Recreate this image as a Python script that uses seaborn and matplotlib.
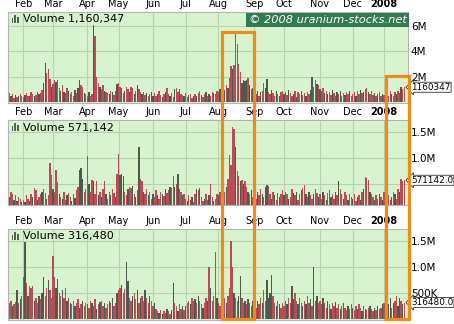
import numpy as np
import pandas as pd
import matplotlib
matplotlib.use("Agg")
import matplotlib.pyplot as plt
import matplotlib.transforms as mtrans
from matplotlib.patches import Rectangle
import seaborn as sns

# ---------------- data ----------------
# one bar per trading day, 19 Jan 2007 .. 22 Jan 2008 ; values in units of 10,000 shares
month_labels = ["Feb", "Mar", "Apr", "May", "Jun", "Jul", "Aug", "Sep", "Oct", "Nov", "Dec", "2008"]
month_start_day = [9, 28, 50, 70, 92, 113, 134, 157, 176, 199, 220, 240]

vol_a = ([70, 45, 60, 35, 55, 40, 50, 65, 45]
         + [40, 55, 70, 50, 45, 75, 60, 50, 55, 80, 65, 70, 95, 150, 310, 230, 260, 180, 120]
         + [140, 170, 160, 175, 110, 90, 130, 80, 70, 110, 90, 60, 75, 50, 95, 70, 110, 170, 130, 120, 70, 60]
         + [50, 80, 45, 60, 610, 520, 200, 150, 120, 100, 130, 90, 80, 70, 60, 85, 75, 55, 90, 140]
         + [150, 120, 110, 70, 90, 120, 100, 80, 115, 110, 60, 90, 130, 100, 75, 60, 80, 55, 70, 45, 65, 80]
         + [50, 70, 45, 60, 85, 55, 40, 65, 75, 110, 60, 50, 70, 40, 100, 110, 80, 105, 60, 55, 45]
         + [70, 40, 55, 65, 35, 50, 60, 45, 70, 90, 55, 40, 60, 75, 45, 65, 50, 80, 70, 60, 90]
         + [75, 100, 85, 120, 95, 130, 110, 190, 280, 260, 290, 540, 460, 300, 240, 150, 170, 165, 175, 190, 130, 100, 110]
         + [70, 60, 85, 45, 75, 90, 150, 110, 180, 80, 60, 95, 70, 50, 85, 65, 45, 75, 90]
         + [60, 80, 55, 95, 70, 50, 65, 85, 40, 75, 60, 90, 55, 70, 45, 80, 60, 95, 200, 120, 170, 140, 130]
         + [100, 85, 110, 70, 90, 60, 80, 55, 95, 70, 50, 75, 60, 85, 45, 70, 55, 80, 65, 90, 50]
         + [60, 75, 50, 85, 65, 95, 70, 80, 100, 110, 75, 60, 90, 55, 70, 45, 60, 80, 50, 65]
         + [55, 40, 70, 50, 85, 60, 45, 75, 65, 90, 70, 120, 105, 116.0347])
dir_a = ("rdrrdrdrr" + "rdrrdrrdrrdrrd" + "drrrd" + "rrdrrdrdrrdrrrdrd" + "d" + "rrdr"
         + "rdrr" + "d" + "r" + "rrdrrdrrdrdrrd" + "rrdrdrrdrrdrdrrdrrdrrd" + "drrdrrdrdrrdrrdrrdrrd"
         + "rrdrrdrdrrdrrdrdrrdrr" + "rdrrdrdrrdr" + "rrrrd" + "ddd" + "rdrd"
         + "rrdrdrrd" + "d" + "rrdrrdrdrr" + "drrdrrdrdrrdrrdrrd" + "d" + "rrdr"
         + "drrdrdrrdrrdrdrrdrrdr" + "rrdrrdrdrrdrrrdrdrrd" + "rrdrrdrrdrrdrr")

vol_b = ([25, 35, 30, 20, 28, 18, 25, 22, 15]
         + [20, 15, 28, 22, 18, 30, 25, 42, 38, 20, 25, 30, 35, 40, 32, 22, 28, 90, 67]
         + [40, 35, 77, 54, 30, 25, 22, 35, 20, 28, 32, 25, 18, 30, 24, 38, 45, 77, 80, 60, 35, 40]
         + [103, 50, 35, 58, 56, 30, 55, 28, 35, 25, 40, 55, 30, 22, 35, 28, 40, 32, 25, 69]
         + [108, 68, 70, 66, 35, 28, 40, 45, 42, 46, 30, 25, 38, 122, 60, 55, 35, 30, 40, 28, 35, 22]
         + [30, 25, 38, 28, 22, 35, 30, 26, 40, 32, 38, 45, 42, 66, 45, 50, 69, 40, 35, 28, 30]
         + [22, 18, 28, 20, 25, 15, 30, 40, 38, 42, 25, 18, 22, 30, 20, 28, 50, 25, 18, 22, 30]
         + [28, 35, 30, 40, 35, 45, 60, 106, 87, 160, 156, 122, 74, 65, 56, 58, 50, 55, 45, 35, 30, 38, 25]
         + [30, 22, 35, 28, 40, 30, 25, 45, 48, 46, 30, 22, 35, 28, 20, 32, 25, 30, 38]
         + [28, 35, 30, 22, 25, 40, 32, 28, 35, 20, 30, 38, 42, 48, 30, 25, 35, 28, 22, 30, 40, 32, 25]
         + [30, 22, 35, 28, 20, 32, 38, 25, 30, 22, 35, 28, 56, 40, 30, 22, 35, 28, 20, 30, 25]
         + [22, 30, 18, 25, 28, 20, 35, 40, 64, 62, 58, 35, 30, 25, 20, 28, 22, 30, 25, 20]
         + [35, 30, 22, 28, 20, 25, 35, 30, 22, 40, 35, 60, 55, 57.1142])
dir_b = ("drrdrdrrd" + "rdrrdrdrrdrrdrrdr" + "rr" + "dr" + "r" + "rdrdrrdrrdrdrr" + "ddd" + "rr"
         + "r" + "drrdrrdrdrrdrrdrrdr" + "r" + "ddd" + "rrdrrdrdr" + "d" + "rrdrrdrr"
         + "drrdrrdrdrrdr" + "r" + "dr" + "d" + "rrdr" + "rdrrdrrdrdrrdrrdrrdrr"
         + "drrdrdr" + "rrrr" + "d" + "rrdrdrrdrdr" + "rrdrrdrd" + "d" + "rrdrdrrdrr"
         + "drrdrrdrdrrdrrdrdrrdrrd" + "rrdrdrrdrrdr" + "d" + "rrdrrdrr"
         + "drrdrdrd" + "rrr" + "drrdrrdrd" + "rrdrrdrdrrd" + "rrr")

vol_c = ([30, 35, 25, 28, 32, 56, 30, 38, 45]
         + [81, 148, 70, 45, 64, 60, 64, 35, 40, 30, 45, 38, 50, 81, 45, 60, 75, 55, 40]
         + [122, 80, 60, 77, 50, 45, 55, 40, 60, 35, 40, 30, 28, 35, 25, 30, 38, 22, 28, 35, 25, 30]
         + [28, 22, 35, 30, 25, 38, 20, 28, 32, 35, 25, 30, 22, 28, 35, 30, 40, 25, 30, 50]
         + [55, 60, 65, 50, 58, 110, 73, 40, 35, 45, 50, 38, 55, 30, 40, 45, 35, 55, 40, 30, 45, 35]
         + [25, 30, 20, 15, 12, 18, 10, 15, 12, 20, 15, 10, 18, 70, 30, 25, 15, 28, 20, 25, 18]
         + [25, 30, 35, 28, 40, 35, 38, 30, 45, 35, 28, 22, 30, 40, 35, 100, 60, 35, 45, 128, 40]
         + [30, 25, 35, 28, 40, 30, 45, 60, 149, 99, 50, 40, 35, 45, 83, 40, 30, 35, 28, 38, 30, 25, 35]
         + [30, 22, 35, 28, 40, 30, 55, 35, 75, 40, 50, 85, 45, 30, 25, 35, 28, 22, 30]
         + [25, 35, 28, 40, 30, 64, 38, 50, 35, 28, 40, 30, 25, 35, 28, 45, 30, 38, 25, 100, 35, 45, 30]
         + [35, 28, 40, 30, 22, 35, 28, 20, 30, 25, 32, 22, 28, 20, 25, 30, 22, 18, 25, 20, 28]
         + [22, 18, 25, 20, 28, 22, 15, 25, 20, 18, 22, 25, 20, 15, 22, 18, 25, 20, 22, 28]
         + [30, 25, 35, 28, 40, 22, 30, 35, 45, 25, 40, 35, 28, 31.648])
dir_c = ("rrdrr" + "d" + "rdr" + "rdrd" + "rrr" + "drrdrd" + "d" + "rrdrr"
         + "r" + "rd" + "d" + "rrdrrdrdrrdrrdrdrr" + "drrdrrdrdrrdrrdrdrrd"
         + "rrdrr" + "d" + "d" + "rrdrrdrdrrdrrdr" + "rdrrdrdrrdrrd" + "d" + "rrdrrdr"
         + "drrdrrdrdrrdrrd" + "r" + "drr" + "r" + "d" + "rrdrrdrr" + "r" + "rdrrd" + "d" + "rrdrdrrd"
         + "rrdrrdrr" + "dddd" + "rrdrdrr" + "rrdrr" + "d" + "drrdrrdrdrrdr" + "d" + "rdr"
         + "rrdrrdrdrrdrrdrdrrdrr" + "drrdrrdrdrrdrrdrdrrd" + "rdrddrdrrddrdr")

last_values = [1160347, 571142, 316480]
last_labels = ["1160347", "571142.0", "316480.0"]
y_ticks = [[2e6, 4e6, 6e6], [0.5e6, 1.0e6, 1.5e6], [0.5e6, 1.0e6, 1.5e6]]
y_tick_labels = [["2M", "4M", "6M"], ["", "1.0M", "1.5M"], ["500K", "1.0M", "1.5M"]]
y_limits = [(-0.08e6, 7.09e6), (0.096e6, 1.73e6), (-0.02e6, 1.73e6)]

for v, d in [(vol_a, dir_a), (vol_b, dir_b), (vol_c, dir_c)]:
    assert len(v) == 254 and len(d) == 254, (len(v), len(d))

# ---------------- styling ----------------
W, H = 454, 324
RED = "#cc3a46"
DARK = "#4f5a4f"
BG = "#d7f4cf"
GRID = "#b7d4ae"
ORANGE = "#f28a1a"

def fx(x):
    return x / W

def fy(y):
    return 1 - y / H

fig = plt.figure(figsize=(W / 100, H / 100), dpi=100)
fig.patch.set_facecolor("white")

panel_px = [(12, 103), (120, 205), (229, 320)]
legend_y = [19.3, 127.5, 236.0]
axes = []
for (top, bot) in panel_px:
    ax = fig.add_axes([fx(8), fy(bot), 400 / W, (bot - top) / H])
    axes.append(ax)

series = [(vol_a, dir_a), (vol_b, dir_b), (vol_c, dir_c)]
pal = {"r": RED, "d": DARK}

for k, ax in enumerate(axes):
    vols, dirs = series[k]
    df = pd.DataFrame({"day": np.arange(len(vols)),
                       "volume": np.array(vols, dtype=float) * 1e4,
                       "dir": list(dirs)})
    sns.barplot(data=df, x="day", y="volume", hue="dir", palette=pal,
                native_scale=True, dodge=False, width=0.86, errorbar=None,
                legend=False, linewidth=0, ax=ax, zorder=2)
    ax.set_facecolor(BG)
    ax.set_xlim(-0.83, 255.4)
    ax.set_ylim(*y_limits[k])
    ax.set_xlabel("")
    ax.set_ylabel("")
    ax.set_axisbelow(True)
    ax.xaxis.tick_top()
    ax.set_xticks(month_start_day, month_labels)
    for lbl in ax.get_xticklabels():
        if lbl.get_text() == "2008":
            lbl.set_fontweight("bold")
    ax.tick_params(axis="x", length=0, pad=2, labelsize=7, colors="black")
    ax.yaxis.tick_right()
    ax.set_yticks(y_ticks[k], y_tick_labels[k])
    ax.tick_params(axis="y", length=0, pad=2, labelsize=7.5, colors="black")
    ax.grid(True, color=GRID, lw=0.8)
    for s in ax.spines.values():
        s.set_color("#b4b4b4")
        s.set_linewidth(0.8)
    # current value marker
    tr = mtrans.blended_transform_factory(ax.transAxes, ax.transData)
    ax.text(1.008, last_values[k], last_labels[k], transform=tr, ha="left", va="center",
            fontsize=6.4, clip_on=False, zorder=6,
            bbox=dict(boxstyle="larrow,pad=0.06", fc="white", ec="#333333", lw=0.6))
    # legend label
    fig.text(fx(23), fy(legend_y[k]), f"Volume {last_values[k]:,}", ha="left", va="center",
             fontsize=8, color="black")
    # small bar icon
    for dx, h in [(11.5, 5), (14.3, 8), (17.1, 6)]:
        fig.add_artist(Rectangle((fx(dx), fy(legend_y[k] + 3.8)), 1.8 / W, h / H,
                                 transform=fig.transFigure, fc="#555f55", ec="none", zorder=8))

# copyright banner
fig.add_artist(Rectangle((fx(246), fy(27.2)), (409 - 246) / W, 14.5 / H,
                         transform=fig.transFigure, fc="#337a52", ec="none", zorder=7))
fig.text(fx(327.5), fy(20.0), "\u00a9 2008 uranium-stocks.net", ha="center", va="center",
         fontsize=8.2, style="italic", color="white", zorder=8)

# orange highlight boxes
fig.add_artist(Rectangle((fx(221.5), fy(318.5)), (253.5 - 221.5) / W, (318.5 - 32.0) / H,
                         transform=fig.transFigure, fill=False, ec=ORANGE, lw=2.3, zorder=9))
fig.add_artist(Rectangle((fx(386.0), fy(318.5)), (408.6 - 386.0) / W, (318.5 - 75.5) / H,
                         transform=fig.transFigure, fill=False, ec=ORANGE, lw=2.3, zorder=9))

fig.savefig("out.png", dpi=100)
